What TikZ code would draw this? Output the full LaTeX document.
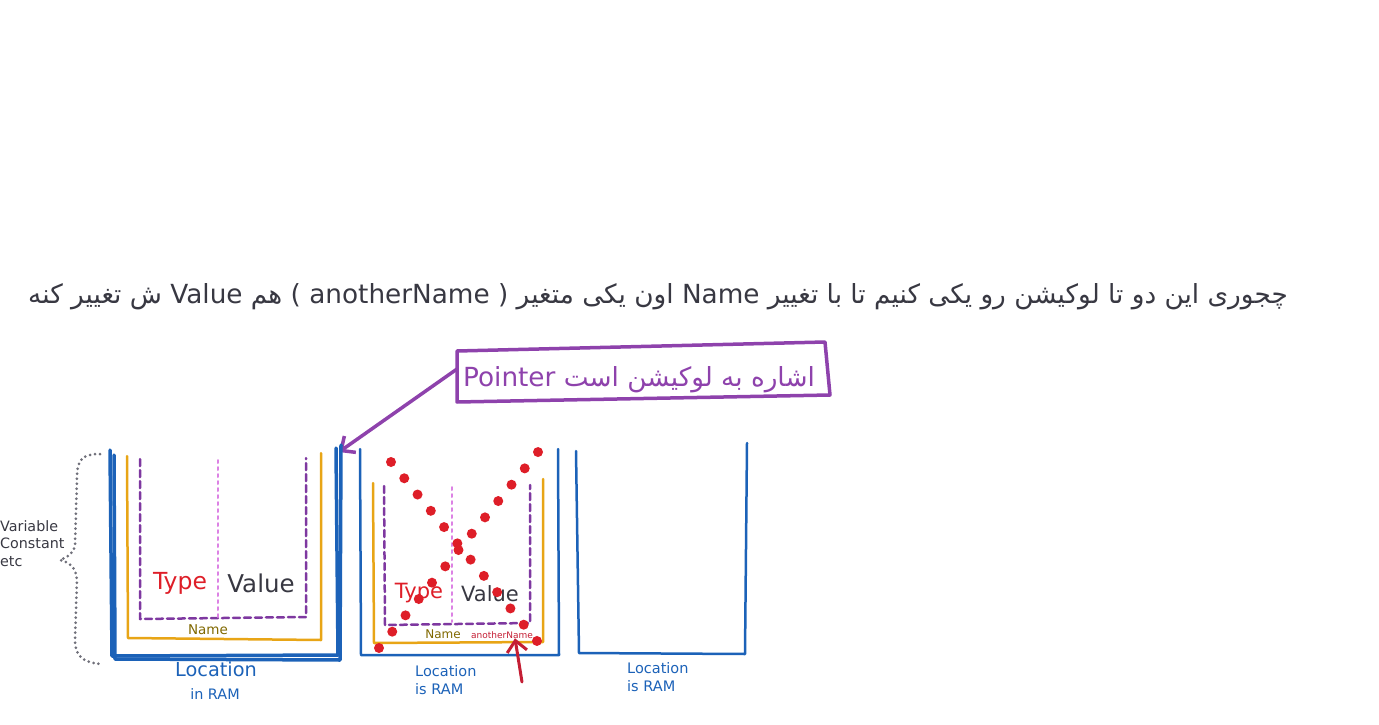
\documentclass[tikz,border=0pt]{standalone}
\usepackage{fontspec}
\setmainfont{DejaVu Sans}
\newfontfamily\arabicfont[Script=Arabic]{DejaVu Sans}
\TeXXeTstate=1
\usetikzlibrary{arrows.meta}

\definecolor{ramblue}{RGB}{28,98,184}
\definecolor{nameorange}{RGB}{232,165,22}
\definecolor{typepurple}{RGB}{126,56,160}
\definecolor{ptrpurple}{RGB}{142,66,172}
\definecolor{splitpink}{RGB}{220,130,228}
\definecolor{dotred}{RGB}{222,30,40}
\definecolor{arrowred}{RGB}{196,30,52}
\definecolor{inkgray}{RGB}{56,56,66}
\definecolor{olivetext}{RGB}{128,104,0}
\definecolor{bracegray}{RGB}{112,112,122}

\newcommand\fsize[1]{\fontsize{#1}{#1}\selectfont}
\newcommand\latin[1]{\beginL{\normalfont #1}\endL{}}

\begin{document}
\begin{tikzpicture}[x=1pt, y=-1pt, line join=round, line cap=round,
  lbl/.style={inner sep=0pt, anchor=base},
  locline/.style={draw=ramblue, line width=2.5pt},
  nameline/.style={draw=nameorange, line width=2.5pt},
  typeline/.style={draw=typepurple, line width=2.5pt, dash pattern=on 7pt off 4pt},
  splitline/.style={draw=splitpink, line width=2pt, dash pattern=on 3pt off 4pt},
  ptrline/.style={draw=ptrpurple, line width=3.5pt},
  reddot/.style={fill=dotred, draw=none},
  barb/.style={-{Straight Barb[length=11pt, width=20pt]}}]
  \useasboundingbox (0,0) rectangle (1379,725);

  % question
  \node[lbl, text=inkgray, font=\fsize{26.3}\arabicfont] (title) at (658,303)
    {\beginR چجوری این دو تا لوکیشن رو یکی کنیم تا با تغییر \latin{Name} اون یکی متغیر \latin{( anotherName )} هم \latin{Value} ش تغییر کنه\endR};

  % pointer note
  \draw[ptrline] (457,351) -- (825,342) -- (830,395) -- (457,402) -- cycle;
  \node[lbl, text=ptrpurple, font=\fsize{26.3}\arabicfont] (pointer) at (639,386)
    {{\normalfont Pointer} \beginR اشاره به لوکیشن است\endR};
  \coordinate (ptrfoot) at (457,369);
  \coordinate (loctop) at (339,452);
  \draw[ptrline, barb] (ptrfoot) -- (loctop);

  % first location
  \draw[locline, line width=3.5pt] (110,450) -- (112,656) -- (338,655) -- (336,448);
  \draw[locline, line width=3.5pt] (114,455) -- (115,659) -- (340,660) -- (341,445);
  \draw[nameline] (127,456) -- (128,638) -- (321,640) -- (321,453);
  \draw[typeline] (140,459) -- (140,619) -- (306,617) -- (306,458);
  \draw[splitline] (218,460) -- (218,617);
  \node[lbl, text=dotred, font=\fsize{23.5}] (type1) at (180,589) {Type};
  \node[lbl, text=inkgray, font=\fsize{24.5}] (value1) at (261,592) {Value};
  \node[lbl, text=olivetext, font=\fsize{13.5}] (name1) at (208,634) {Name};
  \node[lbl, text=ramblue, font=\fsize{19.3}] (loc1) at (216,676) {Location};
  \node[lbl, text=ramblue, font=\fsize{14.4}] (ram1) at (215,699) {in RAM};

  % brace
  \draw[bracegray, line width=3pt, dash pattern=on 0pt off 5pt]
    (100,454) .. controls (82,454) and (77,460) .. (77,478) -- (75,545)
    .. controls (74,553) and (68,557) .. (60,560)
    .. controls (68,562) and (76,566) .. (77,580) -- (75,640)
    .. controls (75,655) and (82,663) .. (102,664);
  \node[lbl, anchor=base west, align=left, text=inkgray,
    font=\fontsize{14.3}{17.5}\selectfont] (kinds) at (0,566) {Variable\\Constant\\etc};

  % second location
  \draw[locline] (360,449) -- (361,655) -- (559,655) -- (558,449);
  \draw[nameline] (373,483) -- (374,643) -- (543,642) -- (543,479);
  \draw[typeline] (384,486) -- (385,625) -- (530,623) -- (530,485);
  \draw[splitline] (452,487) -- (452,622);
  \node[lbl, text=dotred, font=\fsize{21}] (type2) at (419,598) {Type};
  \node[lbl, text=inkgray, font=\fsize{21}] (value2) at (490,601) {Value};
  \node[lbl, text=olivetext, font=\fsize{12}] (name2) at (443,638) {Name};
  \node[lbl, text=arrowred, font=\fsize{9}] (another) at (502,638) {anotherName};
  \node[lbl, anchor=base west, align=left, text=ramblue,
    font=\fontsize{14.5}{18}\selectfont] (loc2) at (415,694) {Location\\is RAM};
  \foreach \i in {0,...,11}
    \fill[reddot] ({391+\i*13.27},{462+\i*16.27}) circle (5pt);
  \foreach \i in {0,...,12}
    \fill[reddot] ({379+\i*13.25},{648-\i*16.33}) circle (5pt);
  \coordinate (redtail) at (522,682);
  \draw[arrowred, line width=3pt, barb] (redtail) -- ([xshift=13pt]another.south);

  % third location
  \draw[locline] (576,451) -- (579,653) -- (745,654) -- (747,443);
  \node[lbl, anchor=base west, align=left, text=ramblue,
    font=\fontsize{14.5}{18}\selectfont] (loc3) at (627,691) {Location\\is RAM};
\end{tikzpicture}
\end{document}
